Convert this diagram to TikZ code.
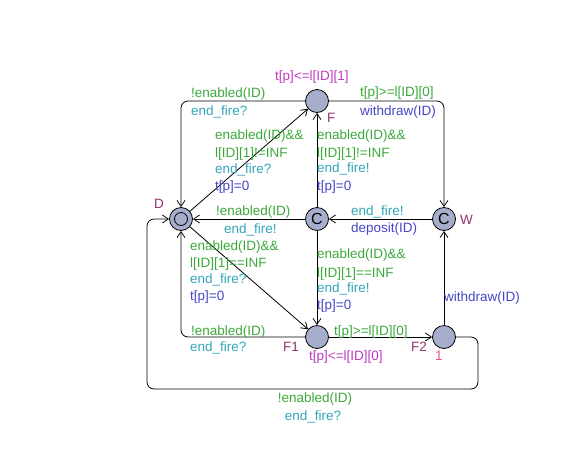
\documentclass[tikz,border=0pt]{standalone}
\usepackage{fontspec}
\setmainfont{Liberation Sans}
\usetikzlibrary{arrows.meta}
\definecolor{locfill}{RGB}{166,174,204}
\definecolor{guardcol}{RGB}{60,168,60}
\definecolor{synccol}{RGB}{50,165,185}
\definecolor{updatecol}{RGB}{70,70,200}
\definecolor{invcol}{RGB}{190,60,190}
\definecolor{namecol}{RGB}{150,50,110}
\definecolor{ratecol}{RGB}{240,80,130}
\tikzstyle{location}=[circle, draw, fill=locfill, minimum size=23pt, inner sep=0pt, line width=0.8pt]
\tikzstyle{initial location}=[location, path picture={\draw[line width=0.8pt] (path picture bounding box.center) circle (6.5pt);}]
\tikzstyle{committed location}=[location, font=\fontsize{16}{18}\selectfont]
\tikzstyle{transition}=[line width=0.8pt, -{Straight Barb[length=6pt,width=8pt]}, rounded corners=7pt]
\tikzstyle{lbl}=[anchor=west, inner sep=0pt, text height=10pt, text depth=3pt]
\tikzstyle{guard}=[lbl, text=guardcol]
\tikzstyle{sync}=[lbl, text=synccol]
\tikzstyle{update}=[lbl, text=updatecol]
\tikzstyle{invariant}=[lbl, text=invcol]
\tikzstyle{locname}=[lbl, text=namecol]
\tikzstyle{rate}=[lbl, text=ratecol]

\begin{document}
\begin{tikzpicture}[x=1pt, y=-1pt, font=\fontsize{13.5}{16}\selectfont]
      \useasboundingbox (0,0) rectangle (571,475);
      % locations
      \node[initial location] (D) at (181, 219) {};
      \node[location] (F) at (317, 101) {};
      \node[committed location] (C) at (317, 219) {C};
      \node[committed location] (W) at (444, 219) {C};
      \node[location] (F1) at (317, 337) {};
      \node[location] (F2) at (444, 337) {};
      \coordinate (loopR) at (478, 389);
      \coordinate (loopL) at (147, 389);
      % names, invariants, rates
      \node[locname] (nameD) at (154, 205) {D};
      \node[locname] (nameF) at (327, 119) {F};
      \node[locname] (nameW) at (460, 221) {W};
      \node[locname] (nameF1) at (283, 348) {F1};
      \node[locname] (nameF2) at (411, 348) {F2};
      \node[invariant] (invF) at (275, 77) {t[p]<=l[ID][1]};
      \node[invariant] (invF1) at (309, 357) {t[p]<=l[ID][0]};
      \node[rate, anchor=center] (rateF2) at (439, 357) {1};

      % transitions
      \draw[transition] (F) -| (D);
      \node[guard] at (191, 94) {!enabled(ID)};
      \node[sync] at (191, 112) {end\_fire?};

      \draw[transition] (D) -- (F);
      \node[guard] at (215, 136) {enabled(ID)\&\&};
      \node[guard] at (215, 154) {l[ID][1]!=INF};
      \node[sync] at (215, 170) {end\_fire?};
      \node[update] at (215, 187) {t[p]=0};

      \draw[transition] (C) -- (F);
      \node[guard] at (317, 136) {enabled(ID)\&\&};
      \node[guard] at (317, 154) {l[ID][1]!=INF};
      \node[sync] at (317, 169) {end\_fire!};
      \node[update] at (317, 187) {t[p]=0};

      \draw[transition] (F) -| (W);
      \node[guard] at (360, 93) {t[p]>=l[ID][0]};
      \node[update] at (360, 112) {withdraw(ID)};

      \draw[transition] (W) -- (C);
      \node[sync] at (351, 212) {end\_fire!};
      \node[update] at (351, 229) {deposit(ID)};

      \draw[transition] (C) -- (D);
      \node[guard] at (216, 212) {!enabled(ID)};
      \node[sync] at (224, 230) {end\_fire!};

      \draw[transition] (D) -- (F1);
      \node[guard] at (190, 247) {enabled(ID)\&\&};
      \node[guard] at (190, 264) {l[ID][1]==INF};
      \node[sync] at (190, 280) {end\_fire?};
      \node[update] at (190, 297) {t[p]=0};

      \draw[transition] (C) -- (F1);
      \node[guard] at (317, 255) {enabled(ID)\&\&};
      \node[guard] at (317, 274) {l[ID][1]==INF};
      \node[sync] at (317, 289) {end\_fire!};
      \node[update] at (317, 306) {t[p]=0};

      \draw[transition] (F1) -| (D);
      \node[guard] at (191, 332) {!enabled(ID)};
      \node[sync] at (190, 348) {end\_fire?};

      \draw[transition] (F1) -- (F2);
      \node[guard] at (334, 332) {t[p]>=l[ID][0]};

      \draw[transition] (F2) -- (W);
      \node[update] at (444, 298) {withdraw(ID)};

      \draw[transition] (F2) -| (loopR) -- (loopL) |- (D);
      \node[guard, anchor=center] at (315, 399) {!enabled(ID)};
      \node[sync, anchor=center] at (313, 417) {end\_fire?};
    \end{tikzpicture}
\end{document}
